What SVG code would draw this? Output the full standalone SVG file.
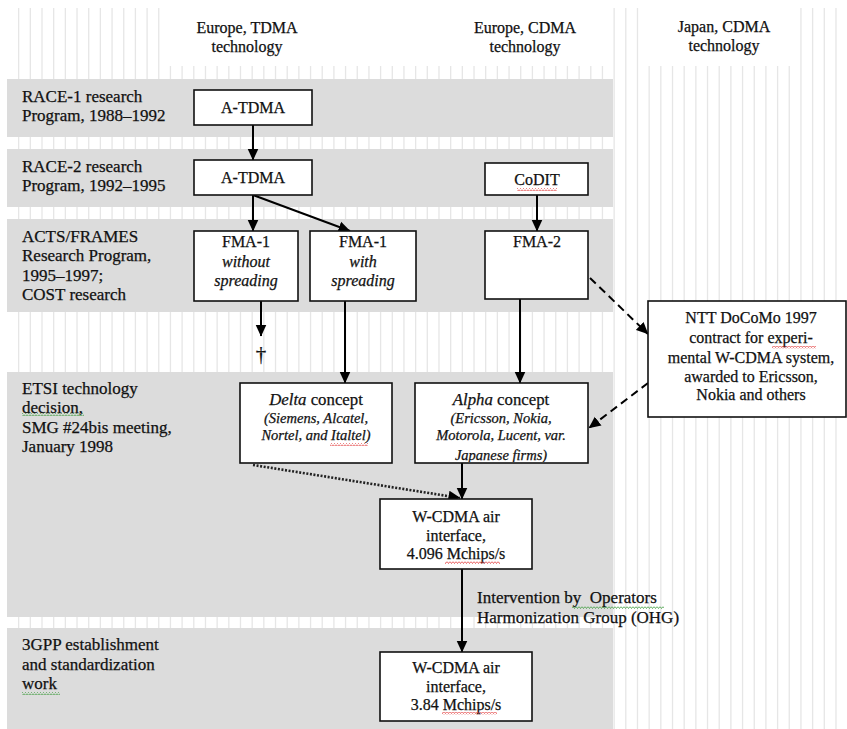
<svg xmlns="http://www.w3.org/2000/svg" width="847" height="729" viewBox="0 0 847 729">
<style>
  text { font-family: "Liberation Serif", "Times New Roman", serif; font-size: 16px; fill: #111111; stroke: #111111; stroke-width: 0.25; }
  .c { text-anchor: middle; }
  .i { font-style: italic; }
  .s { font-size: 14.5px; font-style: italic; }
  .lab { font-size: 17px; }
  .ttl { font-size: 16.8px; }
  .box { fill: #ffffff; stroke: #111111; stroke-width: 1.6; }
  .band { fill: #dcdcdc; }
  .ln { stroke: #000; stroke-width: 2; fill: none; }
  .dash { stroke-dasharray: 8 5; }
  .dot { stroke-dasharray: 2 1.6; stroke-width: 2.6; stroke: #222; }
</style>
<defs>
  <marker id="ah" viewBox="0 0 12 12" refX="11.5" refY="6" markerWidth="12" markerHeight="12" markerUnits="userSpaceOnUse" orient="auto">
    <path d="M0,0.5 L12,6 L0,11.5 z" fill="#000"/>
  </marker>
  <pattern id="wavR" patternUnits="userSpaceOnUse" width="3" height="3">
    <polyline points="0,0.5 1.5,2.5 3,0.5" fill="none" stroke="#e23b3b" stroke-width="0.8"/>
  </pattern>
  <pattern id="wavG" patternUnits="userSpaceOnUse" width="3" height="3">
    <polyline points="0,0.5 1.5,2.5 3,0.5" fill="none" stroke="#3a9a3a" stroke-width="0.8"/>
  </pattern>
  <clipPath id="alphaClip"><rect x="415" y="383" width="173" height="79"/></clipPath>
</defs>

<!-- background grid -->
<rect x="0" y="0" width="847" height="729" fill="#ffffff"/>
<line x1="18" y1="368.5" x2="847" y2="368.5" stroke="#e6e6e6" stroke-width="721" stroke-dasharray="1.3 10.376"/>
<rect x="166" y="0" width="442" height="66" fill="#ffffff"/>
<rect x="643" y="0" width="152" height="66" fill="#ffffff"/>

<!-- bands -->
<g id="bands">
  <rect class="band" x="7" y="79" width="606" height="58"/>
  <rect class="band" x="7" y="149" width="606" height="58"/>
  <rect class="band" x="7" y="219" width="606" height="93"/>
  <rect class="band" x="7" y="372" width="606" height="245"/>
  <rect class="band" x="7" y="628" width="606" height="101"/>
</g>

<!-- headers -->
<g id="headers">
  <text class="c" x="247" y="33">Europe, TDMA</text>
  <text class="c" x="247" y="52">technology</text>
  <text class="c" x="525" y="33">Europe, CDMA</text>
  <text class="c" x="525" y="52">technology</text>
  <text class="c" x="724" y="32">Japan, CDMA</text>
  <text class="c" x="724" y="51">technology</text>
</g>

<!-- row labels -->
<g id="row-labels">
  <text class="lab" x="22" y="102">RACE-1 research</text>
  <text class="lab" x="22" y="121">Program, 1988–1992</text>
  <text class="lab" x="22" y="172">RACE-2 research</text>
  <text class="lab" x="22" y="191">Program, 1992–1995</text>
  <text class="lab" x="22" y="242">ACTS/FRAMES</text>
  <text class="lab" x="22" y="261">Research Program,</text>
  <text class="lab" x="22" y="281">1995–1997;</text>
  <text class="lab" x="22" y="300">COST research</text>
  <text class="lab" x="22" y="394">ETSI technology</text>
  <text class="lab" x="22" y="413">decision,</text>
  <text class="lab" x="22" y="433">SMG #24bis meeting,</text>
  <text class="lab" x="22" y="452">January 1998</text>
  <text class="lab" x="22" y="650">3GPP establishment</text>
  <text class="lab" x="22" y="670">and standardization</text>
  <text class="lab" x="22" y="689">work</text>
  <rect x="22" y="413" width="62" height="3" fill="url(#wavG)"/>
  <rect x="22" y="692" width="38" height="3" fill="url(#wavG)"/>
</g>

<!-- connectors -->
<g id="connectors">
  <line class="ln" x1="253" y1="125" x2="253" y2="160" marker-end="url(#ah)"/>
  <line class="ln" x1="537" y1="195" x2="537" y2="231" marker-end="url(#ah)"/>
  <line class="ln" x1="253" y1="195" x2="253" y2="231" marker-end="url(#ah)"/>
  <line class="ln" x1="253" y1="195" x2="350" y2="231" marker-end="url(#ah)"/>
  <line class="ln" x1="261" y1="301" x2="261" y2="336" marker-end="url(#ah)"/>
  <line class="ln" x1="345" y1="301" x2="345" y2="383" marker-end="url(#ah)"/>
  <line class="ln" x1="520" y1="299" x2="520" y2="383" marker-end="url(#ah)"/>
  <line class="ln" x1="462" y1="463" x2="462" y2="499" marker-end="url(#ah)"/>
  <line class="ln dot" x1="253" y1="465" x2="460" y2="498" marker-end="url(#ah)"/>
  <line class="ln" x1="462" y1="569" x2="462" y2="652" marker-end="url(#ah)"/>
  <line class="ln dash" x1="590" y1="278" x2="648" y2="334" marker-end="url(#ah)"/>
  <line class="ln dash" x1="648" y1="383" x2="589" y2="428" marker-end="url(#ah)"/>
  <text x="261" y="361" class="c" style="font-size:21px">†</text>
  <text class="lab" x="477" y="603">Intervention by&#160; Operators</text>
  <text class="lab" x="477" y="623">Harmonization Group (OHG)</text>
  <rect x="572" y="606" width="92" height="3" fill="url(#wavG)"/>
</g>

<!-- nodes -->
<g id="atdma1">
  <rect class="box" x="194" y="90" width="118" height="35"/>
  <text class="c" x="253" y="113">A-TDMA</text>
</g>
<g id="atdma2">
  <rect class="box" x="194" y="160" width="118" height="35"/>
  <text class="c" x="253" y="183">A-TDMA</text>
</g>
<g id="codit">
  <rect class="box" x="485" y="163" width="103" height="32"/>
  <text class="c" x="537" y="185">CoDIT</text>
  <rect x="517" y="188" width="40" height="3" fill="url(#wavR)"/>
</g>
<g id="fma1-without">
  <rect class="box" x="194" y="231" width="104" height="70"/>
  <text class="c" x="246" y="247">FMA-1</text>
  <text class="c i" x="246" y="267">without</text>
  <text class="c i" x="246" y="286">spreading</text>
</g>
<g id="fma1-with">
  <rect class="box" x="310" y="231" width="106" height="70"/>
  <text class="c" x="363" y="247">FMA-1</text>
  <text class="c i" x="363" y="267">with</text>
  <text class="c i" x="363" y="286">spreading</text>
</g>
<g id="fma2">
  <rect class="box" x="485" y="231" width="103" height="68"/>
  <text class="c" x="537" y="247">FMA-2</text>
</g>
<g id="delta">
  <rect class="box" x="240" y="383" width="152" height="80"/>
  <text class="c ttl" x="316" y="405"><tspan class="i">Delta</tspan> concept</text>
  <text class="c s" x="316" y="423">(Siemens, Alcatel,</text>
  <text class="c s" x="316" y="440">Nortel, and Italtel)</text>
  <rect x="330" y="443" width="38" height="3" fill="url(#wavR)"/>
</g>
<g id="alpha">
  <rect class="box" x="415" y="383" width="173" height="80"/>
  <text class="c ttl" x="501" y="405"><tspan class="i">Alpha</tspan> concept</text>
  <text class="c s" x="501" y="423">(Ericsson, Nokia,</text>
  <text class="c s" x="501" y="440">Motorola, Lucent, var.</text>
  <text class="c s" x="501" y="460" clip-path="url(#alphaClip)">Japanese firms)</text>
</g>
<g id="wcdma1">
  <rect class="box" x="380" y="499" width="152" height="70"/>
  <text class="c" x="456" y="522">W-CDMA air</text>
  <text class="c" x="456" y="541">interface,</text>
  <text class="c" x="456" y="559">4.096 Mchips/s</text>
  <rect x="445" y="561" width="55" height="3" fill="url(#wavR)"/>
</g>
<g id="wcdma2">
  <rect class="box" x="380" y="652" width="152" height="69"/>
  <text class="c" x="456" y="673">W-CDMA air</text>
  <text class="c" x="456" y="692">interface,</text>
  <text class="c" x="456" y="710">3.84 Mchips/s</text>
  <rect x="442" y="712" width="55" height="3" fill="url(#wavR)"/>
</g>
<g id="ntt">
  <rect class="box" x="648" y="301" width="198" height="116"/>
  <text class="c" x="751" y="323">NTT DoCoMo 1997</text>
  <text class="c" x="751" y="343">contract for experi-</text>
  <text class="c" x="751" y="363">mental W-CDMA system,</text>
  <text class="c" x="751" y="382">awarded to Ericsson,</text>
  <text class="c" x="751" y="400">Nokia and others</text>
  <rect x="772" y="346" width="44" height="3" fill="url(#wavR)"/>
</g>
</svg>
